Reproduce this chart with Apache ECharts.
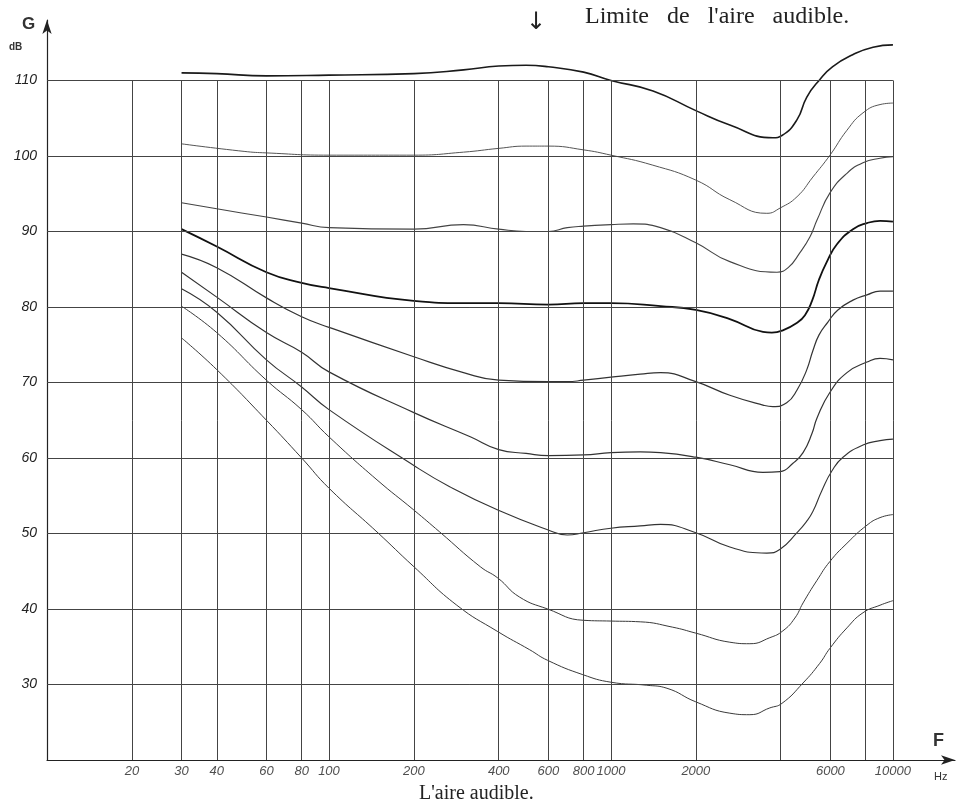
<!DOCTYPE html>
<html>
<head>
<meta charset="utf-8">
<title>Limite de l'aire audible</title>
<script src="https://cdn.jsdelivr.net/npm/echarts@6/dist/echarts.min.js"></script>
<style>
  html, body { margin: 0; padding: 0; background: #fff; }
  #chart { width: 960px; height: 806px; }
</style>
</head>
<body>
<div id="chart"></div>
<script>
// graduations
const freqTicks = [20, 30, 40, 60, 80, 100, 200, 400, 600, 800, 1000, 2000, 6000, 10000];
const freqGrid = [20, 30, 40, 60, 80, 100, 200, 400, 600, 800, 1000, 2000, 4000, 6000, 8000, 10000];
const dbTicks = [30, 40, 50, 60, 70, 80, 90, 100, 110];

// courbes d'égale sensation, [Hz, dB]
const curve110 = [[30,111.0],[40,110.9],[60,110.6],[100,110.7],[200,110.9],[300,111.4],[400,111.9],[500,112.0],[600,111.8],[800,111.1],[1000,110.0],[1410,108.6],[2000,106.0],[2640,104.1],[3750,102.4],[4040,102.7],[4570,104.8],[4950,107.8],[5500,110.1],[6100,111.8],[7200,113.4],[8500,114.4],[10000,114.7]];
const curve100 = [[30,101.6],[50,100.6],[60,100.4],[100,100.1],[200,100.1],[300,100.5],[400,101.0],[500,101.3],[600,101.3],[800,100.8],[1000,100.1],[1400,98.8],[2000,96.8],[2640,94.2],[3570,92.4],[3980,93.1],[4570,94.6],[5200,97.2],[5980,100.1],[6870,103.4],[7830,105.7],[9000,106.8],[10000,107.0]];
const curve90 = [[30,93.8],[40,93.0],[60,91.9],[80,91.1],[100,90.5],[200,90.3],[300,90.9],[400,90.3],[500,90.0],[600,90.0],[700,90.5],[800,90.7],[1000,90.9],[1200,91.0],[1500,90.5],[2000,88.5],[2640,86.0],[3880,84.6],[4250,85.2],[4680,87.2],[5080,89.3],[5380,91.5],[5980,95.1],[6870,97.7],[7830,99.1],[9000,99.7],[10000,99.9]];
const curve80 = [[30,90.3],[40,88.0],[60,84.6],[80,83.2],[100,82.5],[200,80.8],[300,80.5],[400,80.5],[600,80.3],[800,80.5],[1000,80.5],[1500,80.1],[2000,79.6],[2640,78.4],[3460,76.7],[3720,76.6],[4070,76.9],[4570,77.9],[4875,78.9],[5165,80.8],[5465,83.6],[5834,86.0],[6330,88.3],[7215,90.3],[8090,91.1],[9000,91.4],[10000,91.3]];
const curve70 = [[30,87.0],[40,85.2],[60,81.2],[80,78.7],[100,77.3],[200,73.4],[300,71.3],[400,70.3],[600,70.1],[700,70.1],[800,70.3],[1000,70.7],[1270,71.1],[1500,71.3],[2000,70.1],[2640,68.3],[3460,67.0],[3750,66.8],[4200,67.3],[4570,69.0],[4950,71.7],[5200,74.2],[5470,76.3],[5880,78.0],[6380,79.6],[7215,80.9],[8090,81.6],[9000,82.1],[10000,82.1]];
const curve60 = [[30,84.6],[40,81.3],[60,76.6],[80,74.0],[100,71.4],[200,66.0],[317,62.8],[400,61.1],[500,60.6],[600,60.3],[800,60.4],[1000,60.7],[1270,60.8],[1500,60.7],[2000,60.1],[2640,59.1],[3460,58.1],[3980,58.2],[4420,59.3],[4800,60.7],[5170,63.3],[5380,65.3],[5980,68.7],[6870,71.3],[8090,72.7],[9000,73.2],[10000,73.0]];
const curve50 = [[30,82.4],[40,79.3],[60,73.0],[80,69.4],[100,66.4],[200,59.0],[268,56.2],[397,53.1],[596,50.5],[700,49.8],[800,50.1],[1000,50.7],[1270,51.0],[1500,51.2],[2000,50.1],[2640,48.2],[3570,47.4],[3980,47.9],[4570,50.1],[4920,51.5],[5200,52.9],[5600,55.7],[6080,58.3],[6650,60.1],[7830,61.7],[9000,62.3],[10000,62.5]];
const curve40 = [[30,80.1],[40,76.6],[60,70.3],[80,66.4],[100,62.8],[148,57.1],[200,53.1],[247,50.2],[344,45.6],[397,44.1],[473,41.6],[596,40.0],[800,38.5],[1000,38.4],[1270,38.3],[1650,37.6],[2000,36.8],[2640,35.6],[3110,35.4],[3660,36.2],[4070,37.1],[4490,38.8],[4800,40.8],[5380,43.8],[5980,46.3],[6870,48.7],[8090,51.1],[9000,52.1],[10000,52.5]];
const curve30 = [[30,75.9],[40,71.7],[60,65.0],[80,60.0],[100,56.0],[148,50.2],[200,45.6],[284,40.5],[397,37.0],[515,34.6],[596,33.2],[795,31.3],[1000,30.3],[1340,29.9],[1580,29.5],[2000,27.7],[2640,26.2],[3110,26.0],[3660,26.9],[4040,27.5],[4800,30.2],[5500,32.8],[5980,34.8],[6870,37.5],[7830,39.5],[9000,40.5],[10000,41.1]];

const curves = [curve110, curve100, curve90, curve80, curve70, curve60, curve50, curve40, curve30];

let myChart = echarts.init(document.getElementById("chart"));

const handFont = "Liberation Sans";
const serifFont = "Liberation Serif";

// trait des courbes : les deux plus marquées sont 110 et 80
const widths = [1.6, 1, 1.1, 1.8, 1.2, 1.2, 1.1, 1, 1];
const colors = ["#1a1a1a", "#555", "#444", "#111", "#333", "#333", "#333", "#3a3a3a", "#3a3a3a"];

const curveSeries = curves.map((c, i) => ({
  type: "line",
  data: c,
  smooth: 0.5,
  showSymbol: false,
  silent: true,
  z: 3,
  lineStyle: { color: colors[i], width: widths[i] }
}));

// quadrillage et graduations de fréquence
const gridSeries = {
  type: "scatter",
  data: freqTicks.map(f => [f, 20]),
  symbolSize: 1,
  itemStyle: { color: "rgba(0,0,0,0)" },
  silent: true,
  z: 2,
  label: {
    show: true,
    position: "bottom",
    distance: 4,
    formatter: p => p.value[0],
    fontFamily: handFont,
    fontStyle: "italic",
    fontSize: 13,
    color: "#222"
  },
  markLine: {
    silent: true,
    symbol: ["none", "none"],
    label: { show: false },
    animation: false,
    lineStyle: { color: "#444", width: 1, type: "solid" },
    data: freqGrid
      .map(f => [{ coord: [f, 20] }, { coord: [f, 110] }])
      .concat(dbTicks.map(v => [{ coord: [10, v] }, { coord: [10000, v] }]))
  }
};

myChart.setOption({
  animation: false,
  backgroundColor: "#fff",
  grid: { left: 47, right: 5, top: 20, bottom: 46 },
  xAxis: {
    type: "log",
    logBase: 10,
    min: 10,
    max: 16600,
    axisLine: {
      show: true,
      symbol: ["none", "arrow"],
      symbolSize: [7, 14],
      lineStyle: { color: "#222", width: 1.2 }
    },
    axisTick: { show: false },
    axisLabel: { show: false },
    splitLine: { show: false },
    minorTick: { show: false }
  },
  yAxis: {
    type: "value",
    min: 20,
    max: 118,
    interval: 10,
    axisLine: {
      show: true,
      symbol: ["none", "arrow"],
      symbolSize: [7, 14],
      lineStyle: { color: "#222", width: 1.2 }
    },
    axisTick: { show: false },
    splitLine: { show: false },
    axisLabel: {
      margin: 10,
      fontFamily: handFont,
      fontStyle: "italic",
      fontSize: 14,
      color: "#222",
      formatter: v => (dbTicks.indexOf(v) >= 0 ? v : "")
    }
  },
  graphic: [
    { type: "text", left: 22, top: 16, style: { text: "G", fontFamily: handFont, fontWeight: "bold", fontSize: 17, fill: "#333" } },
    { type: "text", left: 9, top: 42, style: { text: "dB", fontFamily: handFont, fontWeight: "bold", fontSize: 10, fill: "#333" } },
    { type: "text", left: 933, top: 732, style: { text: "F", fontFamily: handFont, fontWeight: "bold", fontSize: 18, fill: "#333" } },
    { type: "text", left: 934, top: 771, style: { text: "Hz", fontFamily: handFont, fontSize: 11, fill: "#333" } },
    { type: "text", left: 526, top: 11, style: { text: "↓", fontFamily: "DejaVu Sans", fontSize: 24, fill: "#222" } },
    { type: "text", left: 585, top: 5, style: { text: "Limite   de   l'aire   audible.", fontFamily: serifFont, fontSize: 24, fill: "#222" } },
    { type: "text", left: 419, top: 784, style: { text: "L'aire audible.", fontFamily: serifFont, fontSize: 20, fill: "#222" } }
  ],
  series: curveSeries.concat([gridSeries])
});
</script>
</body>
</html>
